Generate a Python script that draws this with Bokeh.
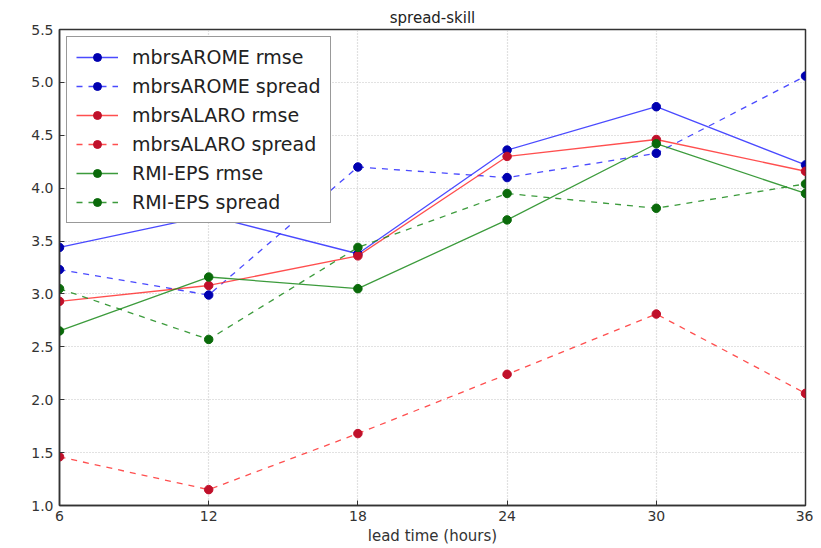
from bokeh.plotting import figure
from bokeh.models import Legend, LegendItem, FixedTicker, Range1d
from bokeh.embed import file_html
from bokeh.resources import INLINE

# data
lead_time = [6, 12, 18, 24, 30, 36]
arome_rmse = [3.44, 3.74, 3.38, 4.36, 4.77, 4.22]
arome_spread = [3.23, 2.99, 4.20, 4.10, 4.33, 5.06]
alaro_rmse = [2.93, 3.08, 3.36, 4.30, 4.46, 4.16]
alaro_spread = [1.46, 1.15, 1.68, 2.24, 2.81, 2.06]
rmi_rmse = [2.65, 3.16, 3.05, 3.70, 4.42, 3.95]
rmi_spread = [3.05, 2.57, 3.44, 3.95, 3.81, 4.04]

x_ticks = [6, 12, 18, 24, 30, 36]
y_ticks = [1.0, 1.5, 2.0, 2.5, 3.0, 3.5, 4.0, 4.5, 5.0, 5.5]

series = [
    ("mbrsAROME rmse", arome_rmse, "#2a2aff", "#0000b0", "solid"),
    ("mbrsAROME spread", arome_spread, "#2a2aff", "#0000b0", "6 6"),
    ("mbrsALARO rmse", alaro_rmse, "#ff3030", "#c0102a", "solid"),
    ("mbrsALARO spread", alaro_spread, "#ff3030", "#c0102a", "6 6"),
    ("RMI-EPS rmse", rmi_rmse, "#1a8a1a", "#0a6a0a", "solid"),
    ("RMI-EPS spread", rmi_spread, "#1a8a1a", "#0a6a0a", "6 6"),
]

FONT = "DejaVu Sans"

p = figure(width=813, height=548, output_backend="svg", toolbar_location=None,
           x_range=Range1d(6, 36), y_range=Range1d(1.0, 5.5),
           min_border_left=59, min_border_right=8, min_border_top=29,
           min_border_bottom=43, title="spread-skill")

p.title.align = "center"
p.title.text_font = FONT
p.title.text_font_size = "15px"
p.title.text_font_style = "normal"
p.title.text_color = "#222222"
p.title.standoff = 6

p.outline_line_color = "#333333"
p.outline_line_width = 1.5

for ax in (p.xaxis[0], p.yaxis[0]):
    ax.axis_line_color = "#333333"
    ax.axis_line_width = 1.5
    ax.major_tick_in = 5
    ax.major_tick_out = 0
    ax.minor_tick_in = 0
    ax.minor_tick_out = 0
    ax.major_tick_line_color = "#333333"
    ax.major_label_text_font = FONT
    ax.major_label_text_font_size = "14px"
    ax.major_label_text_color = "#333333"
    ax.axis_label_text_font = FONT
    ax.axis_label_text_font_size = "15px"
    ax.axis_label_text_font_style = "normal"
    ax.axis_label_text_color = "#333333"

p.xaxis[0].ticker = FixedTicker(ticks=x_ticks)
p.yaxis[0].ticker = FixedTicker(ticks=y_ticks)
p.xaxis[0].major_label_overrides = {t: str(t) for t in x_ticks}
p.yaxis[0].major_label_overrides = {t: f"{t:.1f}" for t in y_ticks}
p.xaxis[0].axis_label = "lead time (hours)"
p.xaxis[0].major_label_standoff = 5
p.xaxis[0].axis_label_standoff = 3
p.yaxis[0].major_label_standoff = 6

for g in (p.xgrid[0], p.ygrid[0]):
    g.grid_line_color = "#c4c4c4"
    g.grid_line_dash = "1 2"
    g.grid_line_width = 1.2

items = []
for label, vals, color, mcolor, dash in series:
    ln = p.line(lead_time, vals, line_color=color, line_width=1.3, line_dash=dash,
                line_alpha=0.85)
    sc = p.scatter(lead_time, vals, size=8.5, fill_color=mcolor, line_color=mcolor)
    items.append(LegendItem(label=label, renderers=[ln, sc]))

legend = Legend(items=items, location="top_left")
legend.margin = 7
legend.padding = 9
legend.spacing = 7
legend.glyph_width = 42
legend.glyph_height = 20
legend.label_height = 20
legend.label_standoff = 14
legend.label_text_font = FONT
legend.label_text_font_size = "19px"
legend.label_text_color = "#222222"
legend.border_line_color = "#333333"
legend.border_line_width = 1.5
legend.background_fill_alpha = 1.0
p.add_layout(legend)

open("out.html", "w").write(file_html(p, INLINE))
